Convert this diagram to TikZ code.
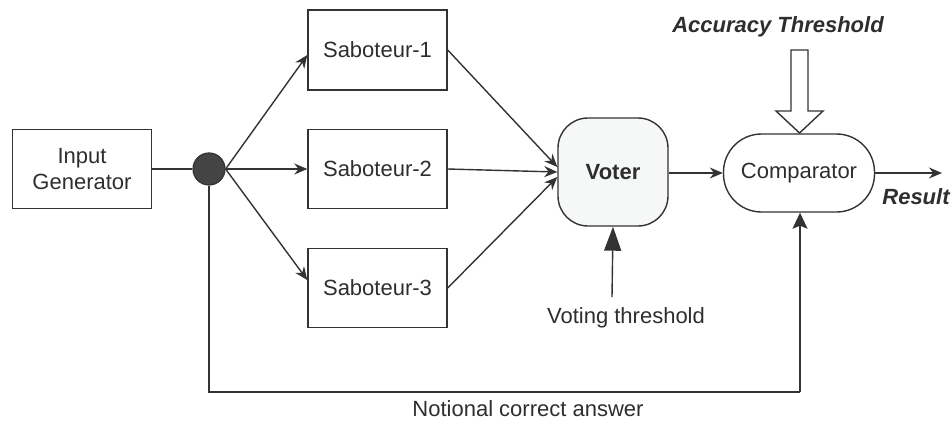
\documentclass[tikz,border=0pt]{standalone}
\usepackage{fontspec}
\setmainfont{Liberation Sans}
\usetikzlibrary{arrows.meta}
\definecolor{ink}{HTML}{333333}
\definecolor{txt}{HTML}{2E2E2E}
\definecolor{voterfill}{HTML}{F6F8F8}
\definecolor{dotfill}{HTML}{444444}
\begin{document}
\begin{tikzpicture}[x=1pt,y=-1pt,
  every node/.style={font=\fontsize{22}{26}\selectfont, text=txt},
  line/.style={draw=ink, line width=1.4pt},
  arr/.style={line, -{Stealth[length=13pt,width=11pt]}},
  midarr/.style={line, -{Stealth[length=16pt,width=15pt,inset=3pt]}},
  bigarr/.style={line, -{Triangle[length=24pt,width=17pt]}},
  box/.style={draw=ink, line width=1.4pt, rectangle, inner sep=0pt},
  lbl/.style={inner sep=0pt},
  bilbl/.style={inner sep=0pt, font=\fontsize{22}{26}\selectfont\bfseries\itshape}
]
\useasboundingbox (0,0) rectangle (952,420);

% Nodes
\node[box, minimum width=139pt, minimum height=79pt, align=center] (gen) at (82,169) {Input\\Generator};
\node[draw=ink, line width=1.2pt, fill=dotfill, circle, minimum size=32pt, inner sep=0pt] (dot) at (209,169) {};
\node[box, minimum width=139pt, minimum height=80pt] (s1) at (377.5,50) {Saboteur-1};
\node[box, minimum width=139pt, minimum height=79pt] (s2) at (377.5,169) {Saboteur-2};
\node[box, minimum width=139pt, minimum height=79pt] (s3) at (377.5,288) {Saboteur-3};
\node[box, fill=voterfill, rounded corners=30pt, minimum width=110pt, minimum height=108pt, font=\fontsize{22}{26}\selectfont\bfseries] (voter) at (613,172) {Voter};
\node[box, rounded corners=38pt, minimum width=151pt, minimum height=78pt] (comp) at (799,173) {Comparator};

\node[bilbl] (acc) at (778,27) {Accuracy Threshold};
\node[bilbl] (res) at (916,197) {Result};
\node[lbl] (vt) at (626,318) {Voting threshold};
\node[lbl] (nca) at (528,409) {Notional correct answer};

\coordinate (vtstart) at (612,297);
\coordinate (resend) at (942,173);
\coordinate (fb1) at (209,392);
\coordinate (fb2) at (800,392);

% Connectors
\draw[line] (gen.east) -- (dot.west);
\draw[arr] (dot.east) -- ([yshift=-5pt]s1.west);
\draw[arr] (dot.east) -- (s2.west);
\draw[arr] (dot.east) -- ([yshift=8pt]s3.west);

\draw[arr] (s1.east) -- ([yshift=5pt]voter.west);
\draw[arr] (s2.east) -- (voter.west);
\draw[arr] (s3.east) -- ([yshift=-5pt]voter.west);

\draw[arr] (voter.east |- comp.west) -- (comp.west);
\draw[arr] (comp.east) -- (resend);
\draw[bigarr] (vtstart) -- (voter.south);

\draw[line] (dot.south) -- (fb1) -- (fb2);
\draw[midarr] (fb2) -- (fb2 |- comp.south);

% Hollow arrow
\draw[draw=ink, line width=1.4pt, fill=white, line join=miter]
  (791,50) -- (808,50) -- (808,111) -- (823,111) -- (799.5,133) -- (776,111) -- (791,111) -- cycle;
\end{tikzpicture}
\end{document}
